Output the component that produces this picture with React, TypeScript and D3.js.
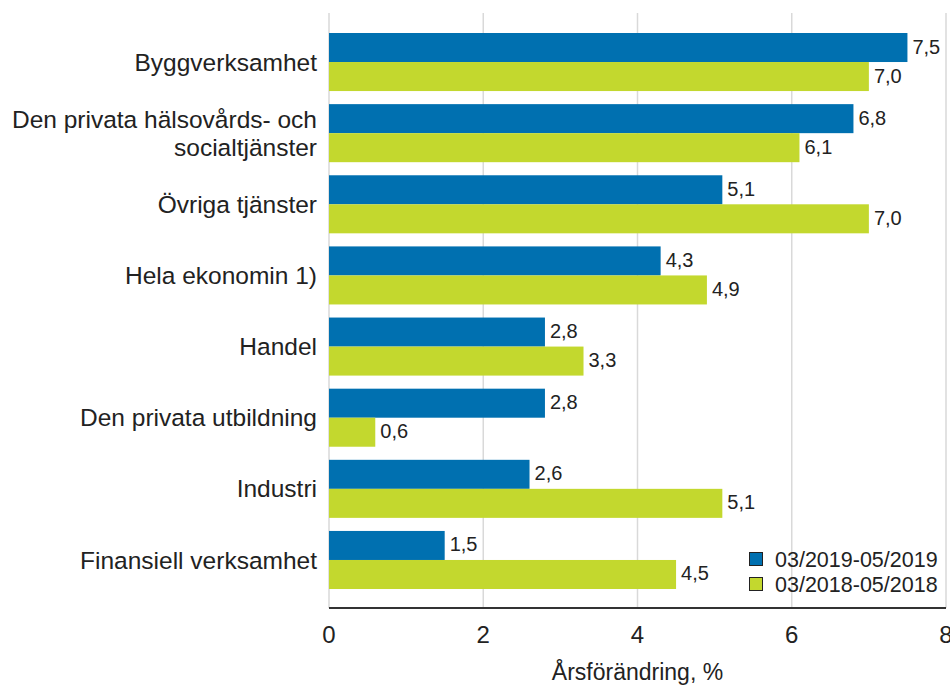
import React from 'react';
import * as d3 from 'd3';

const categories = [
  'Byggverksamhet',
  'Den privata hälsovårds- och|socialtjänster',
  'Övriga tjänster',
  'Hela ekonomin 1)',
  'Handel',
  'Den privata utbildning',
  'Industri',
  'Finansiell verksamhet',
];
const series2019 = [7.5, 6.8, 5.1, 4.3, 2.8, 2.8, 2.6, 1.5];
const series2018 = [7.0, 6.1, 7.0, 4.9, 3.3, 0.6, 5.1, 4.5];
const seriesNames = ['03/2019-05/2019', '03/2018-05/2018'];
const seriesColors = ['#0070b0', '#c3d82e'];
const xTicks = [0, 2, 4, 6, 8];

const W = 950;
const H = 686;
const plotTop = 13;
const plotBottom = 608;

const App = () => {
  const x = d3.scaleLinear().domain([0, 8]).range([329, 946]);
  const y = d3.scaleBand<number>()
    .domain(d3.range(categories.length))
    .range([33, 589])
    .paddingInner(0.184)
    .paddingOuter(0);
  const sub = d3.scaleBand<number>().domain([0, 1]).range([0, y.bandwidth()]);
  const fmt = (v: number) => v.toFixed(1).replace('.', ',');
  const font = '"Liberation Sans", Arial, sans-serif';

  return (
    <svg width={W} height={H} style={{ position: 'absolute', left: 0, top: 0, background: '#fff' }} fontFamily={font}>
      {/* gridlines */}
      {xTicks.map(t => (
        <line key={t} x1={x(t)} x2={x(t)} y1={plotTop} y2={plotBottom} stroke="#d9d9d9" strokeWidth={1.5} />
      ))}

      {/* bars */}
      {categories.map((c, i) => {
        const vals = [series2019[i], series2018[i]];
        return (
          <g key={c}>
            {vals.map((v, s) => (
              <g key={s}>
                <rect
                  x={x(0)}
                  y={y(i)! + sub(s)!}
                  width={x(v) - x(0)}
                  height={sub.bandwidth()}
                  fill={seriesColors[s]}
                />
                <text
                  x={x(v) + 5}
                  y={y(i)! + sub(s)! + sub.bandwidth() / 2}
                  dy="0.3em"
                  fontSize={20}
                  fill="#222"
                >
                  {fmt(v)}
                </text>
              </g>
            ))}
          </g>
        );
      })}

      {/* category labels */}
      {categories.map((c, i) => {
        const lines = c.split('|');
        const cy = y(i)! + y.bandwidth() / 2;
        return (
          <text key={c} x={317} y={cy} textAnchor="end" fontSize={24.5} fill="#222">
            {lines.map((l, k) => (
              <tspan key={k} x={317} dy={k === 0 ? `${0.35 - (lines.length - 1) * 0.57}em` : '1.14em'}>{l}</tspan>
            ))}
          </text>
        );
      })}

      {/* x axis */}
      <line x1={x(0)} x2={x(8)} y1={plotBottom} y2={plotBottom} stroke="#333" strokeWidth={2} />
      {xTicks.map(t => (
        <text key={t} x={x(t)} y={643} textAnchor="middle" fontSize={24} fill="#222">{t}</text>
      ))}
      <text x={(x(0) + x(8)) / 2} y={680} textAnchor="middle" fontSize={23} fill="#222">Årsförändring, %</text>

      {/* legend */}
      {seriesNames.map((n, s) => (
        <g key={n} transform={`translate(749,${552 + s * 25})`}>
          <rect x={0.5} y={0.5} width={13} height={13} fill={seriesColors[s]} stroke="#222" strokeWidth={1} />
          <text x={26} y={7} dy="0.35em" fontSize={21.5} fill="#222">{n}</text>
        </g>
      ))}
    </svg>
  );
};

export default App;
